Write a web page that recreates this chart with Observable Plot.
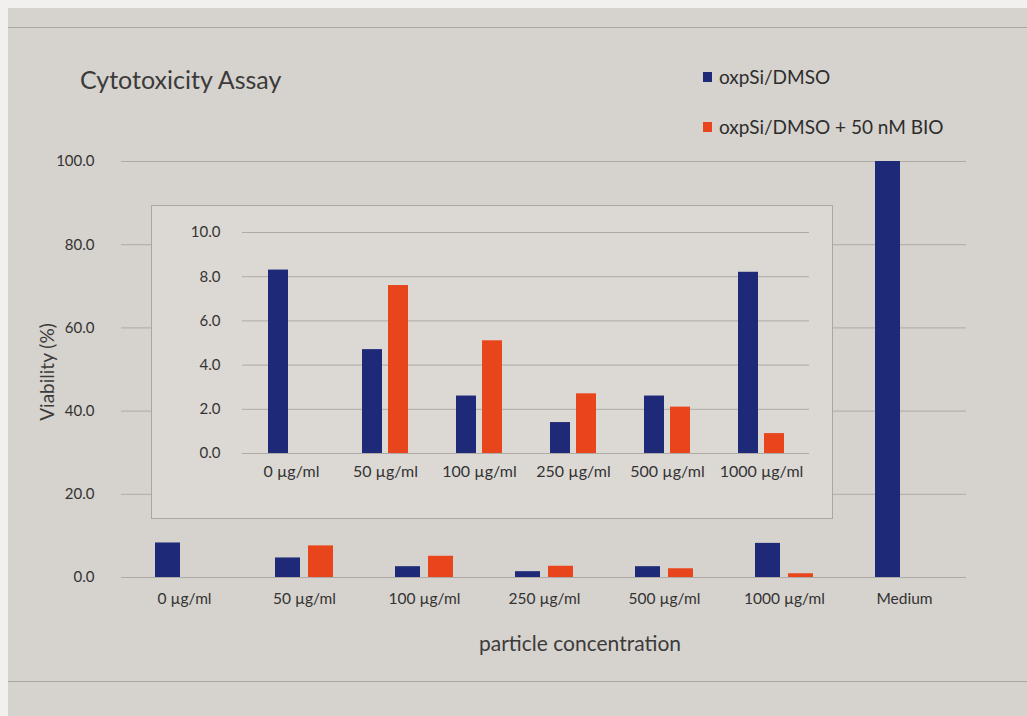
<!DOCTYPE html>
<html>
<head>
<meta charset="utf-8">
<script src="https://cdn.jsdelivr.net/npm/d3@7"></script>
<script src="https://cdn.jsdelivr.net/npm/@observablehq/plot@0.6"></script>
<style>
  html, body { margin: 0; padding: 0; background: #f2f0ee; }
  #page { position: relative; width: 1027px; height: 716px; overflow: hidden; font-family: Lato, "Open Sans", sans-serif; }
  #paper { position: absolute; left: 8px; top: 8px; width: 1019px; height: 708px; background: #d6d2cd; }
  #frame { position: absolute; left: 8px; top: 27px; width: 1019px; height: 653px; border-top: 1px solid #aaa6a1; border-bottom: 1px solid #aaa6a1; }
  .abs { position: absolute; }
  .layer { position: absolute; left: 0; top: 0; }
  #title { left: 80px; top: 64px; font-size: 25px; line-height: 30px; color: #3b3b3b; }
  .leg { font-size: 19px; line-height: 22px; color: #2d2d2d; display: flex; align-items: center; white-space: nowrap; }
  .leg span.sw { display: inline-block; width: 9px; height: 10px; margin-right: 7px; }
  #ytitle { left: 46px; top: 372px; font-size: 19px; color: #3b3b3b; transform: translate(-50%, -50%) rotate(-90deg); white-space: nowrap; }
  #xtitle { left: 580px; top: 642px; font-size: 21px; color: #3b3b3b; transform: translate(-50%, -50%); white-space: nowrap; }
  #inset { left: 151px; top: 205px; width: 682px; height: 314px; background: #dcd9d5; border: 1px solid #aaa6a1; box-sizing: border-box; }
</style>
</head>
<body>
<div id="page">
  <div id="paper"></div>
  <div id="frame"></div>
  <div id="main" class="abs" style="left:0;top:0;width:1027px;height:716px"></div>
  <div id="inset" class="abs"></div>
  <div id="title" class="abs">Cytotoxicity Assay</div>
  <div id="legend"></div>
  <div id="ytitle" class="abs">Viability (%)</div>
  <div id="xtitle" class="abs">particle concentration</div>
</div>
<script>
// ---- data ----
const categories = ["0 µg/ml", "50 µg/ml", "100 µg/ml", "250 µg/ml", "500 µg/ml", "1000 µg/ml", "Medium"];
const insetCategories = ["0 µg/ml", "50 µg/ml", "100 µg/ml", "250 µg/ml", "500 µg/ml", "1000 µg/ml"];
const seriesNames = ["oxpSi/DMSO", "oxpSi/DMSO + 50 nM BIO"];
const dmso = [8.3, 4.7, 2.6, 1.4, 2.6, 8.2, 100.0];
const dmsoBio = [null, 7.6, 5.1, 2.7, 2.1, 0.9, null];
const seriesColors = ["#1e2a78", "#e8451c"];
const mainTicks = [0, 20, 40, 60, 80, 100];
const insetTicks = [0, 2, 4, 6, 8, 10];

// build rows
const rows = [];
categories.forEach((c, i) => {
  if (dmso[i] != null) rows.push({cat: c, series: seriesNames[0], value: dmso[i]});
  if (dmsoBio[i] != null) rows.push({cat: c, series: seriesNames[1], value: dmsoBio[i]});
});
const insetRows = rows.filter(d => insetCategories.includes(d.cat));

const fmt = d3.format(".1f");
const font = "Lato, 'Open Sans', sans-serif";

function chart(target, o) {
  const common = {
    width: o.width, height: o.height,
    marginLeft: o.ml, marginRight: o.mr, marginTop: o.mt, marginBottom: o.mb,
    style: {background: "transparent", fontFamily: font, color: "#333"}
  };
  // background layer: grid + y axis
  const bg = Plot.plot({
    ...common,
    y: {domain: o.yDomain, label: null},
    marks: [
      Plot.gridY(o.ticks, {stroke: "#aeaaa5", strokeOpacity: 1, strokeWidth: 1}),
      Plot.axisY(o.ticks, {tickSize: 0, tickPadding: o.yPad, tickFormat: fmt, fontSize: o.yFont, fill: "#333", label: null})
    ]
  });
  // foreground layer: grouped bars
  const fg = Plot.plot({
    ...common,
    y: {domain: o.yDomain, label: null, axis: null},
    fx: {domain: o.cats, paddingInner: o.fxPI, paddingOuter: o.fxPO, label: null},
    x: {domain: seriesNames, paddingInner: o.xPI, paddingOuter: 0, axis: null},
    color: {domain: seriesNames, range: seriesColors},
    marks: [
      Plot.axisFx({anchor: "bottom", tickSize: 0, tickPadding: o.xPad, fontSize: o.xFont, fill: "#333", label: null}),
      Plot.barY(o.rows, {fx: "cat", x: "series", y: "value", fill: "series"})
    ]
  });
  bg.classList.add("layer");
  fg.classList.add("layer");
  bg.style.position = "absolute"; fg.style.position = "absolute";
  target.appendChild(bg);
  target.appendChild(fg);
}

chart(document.getElementById("main"), {
  width: 1027, height: 716, ml: 121, mr: 61, mt: 161, mb: 139,
  yDomain: [0, 100], ticks: mainTicks, yPad: 27, yFont: 15,
  cats: categories, rows: rows, fxPI: 0.5, fxPO: 0.25, xPI: 0.235, xPad: 15, xFont: 15.5
});

chart(document.getElementById("inset"), {
  width: 680, height: 312, ml: 90, mr: 23, mt: 26, mb: 65,
  yDomain: [0, 10], ticks: insetTicks, yPad: 22, yFont: 15,
  cats: insetCategories, rows: insetRows, fxPI: 0.49, fxPO: 0.245, xPI: 0.22, xPad: 12, xFont: 16
});

// ---- legend ----
const legend = document.getElementById("legend");
const legendTops = [66, 116];
seriesNames.forEach((s, i) => {
  const el = document.createElement("div");
  el.className = "abs leg";
  el.style.left = "703px";
  el.style.top = legendTops[i] + "px";
  el.innerHTML = `<span class="sw" style="background:${seriesColors[i]}"></span>${s}`;
  legend.appendChild(el);
});
</script>
</body>
</html>
